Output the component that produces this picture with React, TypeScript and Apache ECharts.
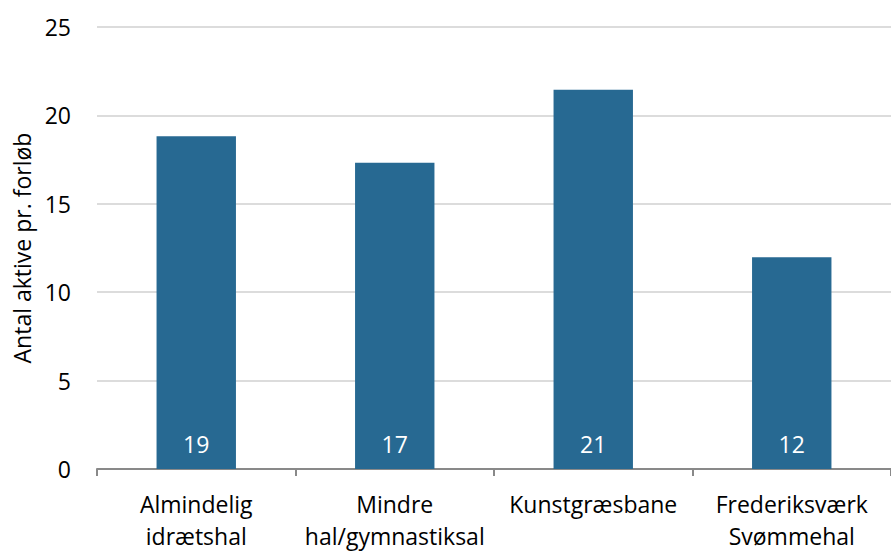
import React, { useEffect, useRef } from "react";
import * as echarts from "echarts";

const categories = [
  "Almindelig\nidrætshal",
  "Mindre\nhal/gymnastiksal",
  "Kunstgræsbane",
  "Frederiksværk\nSvømmehal",
];
const values = [18.82, 17.32, 21.45, 11.98];
const yTicks = { min: 0, max: 25, interval: 5 };
const yAxisTitle = "Antal aktive pr. forløb";

const FONT = "'Open Sans', 'Noto Sans', sans-serif";

export default function App() {
  const ref = useRef<HTMLDivElement>(null);
  useEffect(() => {
    if (!ref.current) return;
    const chart = echarts.init(ref.current, null, { renderer: "svg" });
    chart.setOption({
      animation: false,
      backgroundColor: "#ffffff",
      textStyle: { fontFamily: FONT },
      grid: { left: 97, top: 27, bottom: 79, right: -10, containLabel: false },
      xAxis: {
        type: "category",
        data: categories,
        axisLine: { show: true, lineStyle: { color: "#898989", width: 2 } },
        axisTick: { show: true, length: 7, lineStyle: { color: "#898989", width: 2 } },
        axisLabel: {
          color: "#000",
          fontSize: 23,
          fontFamily: FONT,
          lineHeight: 32,
          margin: 19,
          interval: 0,
        },
      },
      yAxis: {
        type: "value",
        min: yTicks.min,
        max: yTicks.max,
        interval: yTicks.interval,
        name: yAxisTitle,
        nameLocation: "middle",
        nameGap: 63,
        nameTextStyle: { color: "#000", fontSize: 23, fontFamily: FONT },
        axisLine: { show: false },
        axisTick: { show: false },
        axisLabel: { color: "#000", fontSize: 23, fontFamily: FONT, margin: 26 },
        splitLine: { lineStyle: { color: "#d0d0d0", width: 1.5 } },
      },
      series: [
        {
          type: "bar",
          data: values,
          barWidth: "40%",
          itemStyle: { color: "#276992" },
          label: {
            show: true,
            position: "insideBottom",
            distance: 14,
            color: "#ffffff",
            fontSize: 23,
            fontFamily: FONT,
            formatter: (p: any) => Math.round(p.value).toString(),
          },
        },
      ],
    });
    return () => chart.dispose();
  }, []);
  return (
    <div
      ref={ref}
      style={{ position: "fixed", left: 0, top: 0, width: 891, height: 552 }}
    />
  );
}
